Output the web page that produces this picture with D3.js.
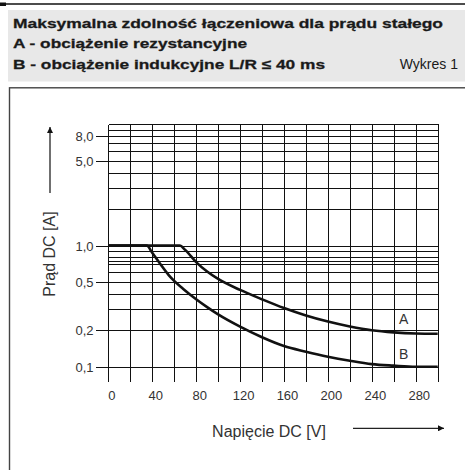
<!DOCTYPE html>
<html><head><meta charset="utf-8">
<script src="https://cdn.jsdelivr.net/npm/d3@7"></script>
<style>body{margin:0;background:#fff}svg{display:block}</style>
</head><body>
<svg id="c" width="465" height="470"></svg>
<script>
// ---- data ----
const xGridValues = d3.range(0, 301, 20);
const xTickLabels = [0, 40, 80, 120, 160, 200, 240, 280];
const yGridValues = [10, 9, 8, 7, 6, 5, 4, 3, 2, 1, 0.9, 0.8, 0.75, 0.7, 0.6, 0.5, 0.4, 0.3, 0.2, 0.1];
const yTickValues = [8, 5, 1, 0.5, 0.2, 0.1];
const yTickLabels = ["8,0", "5,0", "1,0", "0,5", "0,2", "0,1"];
const seriesNames = ["A", "B"];
const voltageA = [0, 65, 70, 80, 90, 100, 120, 140, 160, 180, 200, 220, 240, 260, 280, 300];
const currentA = [1, 1, 0.92, 0.73, 0.61, 0.53, 0.43, 0.36, 0.305, 0.265, 0.236, 0.215, 0.2, 0.192, 0.188, 0.187];
const voltageB = [0, 35, 40, 47, 55, 60, 68, 80, 90, 100, 120, 140, 160, 180, 200, 220, 240, 260, 280, 300];
const currentB = [1, 1, 0.87, 0.71, 0.57, 0.51, 0.44, 0.36, 0.31, 0.27, 0.214, 0.175, 0.148, 0.133, 0.121, 0.112, 0.105, 0.102, 0.1, 0.1];
const titleLines = ["Maksymalna zdolność łączeniowa dla prądu stałego", "A - obciążenie rezystancyjne", "B - obciążenie indukcyjne L/R \u2264 40 ms"];
const figureLabel = "Wykres 1";
const xTitle = "Napięcie DC [V]";
const yTitle = "Prąd DC [A]";

const svg = d3.select("#c");
const ink = "#1a1a1a";

// header
svg.append("line").attr("x1", 0).attr("x2", 465).attr("y1", 4).attr("y2", 4).attr("stroke", "#111").attr("stroke-width", 1.3);
svg.append("rect").attr("x", 0).attr("y", 2.5).attr("width", 6).attr("height", 3.5).attr("fill", "#111");
svg.append("rect").attr("x", 8).attr("y", 10).attr("width", 457).attr("height", 71.5).attr("fill", "#e8e8e8");
const hdrFont = "'Liberation Sans', Arial, sans-serif";
const lineY = [28.3, 48, 68.5];
const lineW = [430, 234, 312];
titleLines.forEach((t, i) => {
  svg.append("text").attr("x", 13).attr("y", lineY[i]).text(t)
    .attr("font-family", hdrFont).attr("font-weight", "bold").attr("font-size", 13.5)
    .attr("fill", ink).attr("stroke", ink).attr("stroke-width", 0.3)
    .attr("textLength", lineW[i]).attr("lengthAdjust", "spacingAndGlyphs");
});
svg.append("text").attr("x", 458).attr("y", 68.5).attr("text-anchor", "end").text(figureLabel)
  .attr("font-family", hdrFont).attr("font-size", 14).attr("fill", ink);

// chart box
svg.append("rect").attr("x", 9.5).attr("y", 87.8).attr("width", 470).attr("height", 400)
  .attr("fill", "none").attr("stroke", "#444").attr("stroke-width", 1.4);

// scales
const x = d3.scaleLinear().domain([0, 300]).range([108.3, 437.7]);
const y = d3.scaleLog().domain([0.1, 10]).range([366.7, 124.3]);
const gridColor = "#111";
const snap = v => Math.round(v) + 0.5;

// vertical grid lines (extend below as ticks)
svg.append("g").attr("shape-rendering", "crispEdges").selectAll("line").data(xGridValues).join("line")
  .attr("x1", d => snap(x(d))).attr("x2", d => snap(x(d)))
  .attr("y1", snap(y(10))).attr("y2", y(0.1) + 15)
  .attr("stroke", gridColor).attr("stroke-width", 1);
// horizontal grid lines
svg.append("g").attr("shape-rendering", "crispEdges").selectAll("line").data(yGridValues).join("line")
  .attr("x1", snap(x(0))).attr("x2", snap(x(300)))
  .attr("y1", d => snap(y(d))).attr("y2", d => snap(y(d)))
  .attr("stroke", gridColor).attr("stroke-width", 1);

// y axis ticks & labels
const tickFont = "'Liberation Sans', Arial, sans-serif";
const yAxis = d3.axisLeft(y).tickValues(yTickValues)
  .tickFormat((d, i) => yTickLabels[i]).tickSize(13).tickPadding(2);
const gy = svg.append("g").attr("transform", `translate(${snap(x(0))},0)`).call(yAxis);
gy.select(".domain").remove();
gy.selectAll(".tick").attr("transform", d => `translate(0,${snap(y(d))})`);
gy.selectAll(".tick line").attr("stroke", gridColor).attr("shape-rendering", "crispEdges");
gy.selectAll(".tick text").attr("font-family", tickFont).attr("font-size", 13).attr("fill", "#333");

// x axis labels
const xAxis = d3.axisBottom(x).tickValues(xTickLabels).tickSize(0).tickPadding(0).tickFormat(d3.format("d"));
const gx = svg.append("g").attr("transform", `translate(3,${y(0.1) + 24})`).call(xAxis);
gx.select(".domain").remove();
gx.selectAll(".tick text").attr("font-family", tickFont).attr("font-size", 13).attr("fill", "#333");

// curves
const line = d3.line().x(d => x(d[0])).y(d => y(d[1])).curve(d3.curveMonotoneX);
const dataA = voltageA.map((v, i) => [v, currentA[i]]);
const dataB = voltageB.map((v, i) => [v, currentB[i]]);
[dataA, dataB].forEach(d => {
  svg.append("path").attr("d", line(d)).attr("fill", "none").attr("stroke", "#111")
    .attr("stroke-width", 2.6).attr("stroke-linejoin", "round");
});
// series labels
const labelPos = [[270, 0.245], [270, 0.128]];
seriesNames.forEach((n, i) => {
  svg.append("text").attr("x", x(labelPos[i][0])).attr("y", y(labelPos[i][1])).attr("dx", -1)
    .attr("dy", "0.35em").attr("text-anchor", "middle").text(n)
    .attr("font-family", tickFont).attr("font-size", 14).attr("fill", "#333");
});

// axis titles with arrows
const defs = svg.append("defs");
defs.append("marker").attr("id", "ah").attr("viewBox", "0 0 10 10").attr("refX", 10).attr("refY", 5)
  .attr("markerWidth", 11).attr("markerHeight", 6).attr("markerUnits", "userSpaceOnUse").attr("orient", "auto")
  .append("path").attr("d", "M0,0 L10,5 L0,10 Z").attr("fill", "#111");
const yTitleX = 55, yTitleY = 254;
svg.append("text").attr("transform", `translate(${yTitleX},${yTitleY}) rotate(-90)`)
  .attr("text-anchor", "middle").text(yTitle)
  .attr("font-family", tickFont).attr("font-size", 16).attr("fill", "#333");
svg.append("line").attr("x1", 50).attr("x2", 50).attr("y1", 193).attr("y2", 127)
  .attr("stroke", "#222").attr("stroke-width", 1.3).attr("marker-end", "url(#ah)");
svg.append("text").attr("x", 269).attr("y", 437).attr("text-anchor", "middle").text(xTitle)
  .attr("font-family", tickFont).attr("font-size", 16).attr("fill", "#333");
svg.append("line").attr("x1", 353).attr("x2", 444).attr("y1", 428.3).attr("y2", 428.3)
  .attr("stroke", "#222").attr("stroke-width", 1.3).attr("marker-end", "url(#ah)");
</script>
</body></html>
